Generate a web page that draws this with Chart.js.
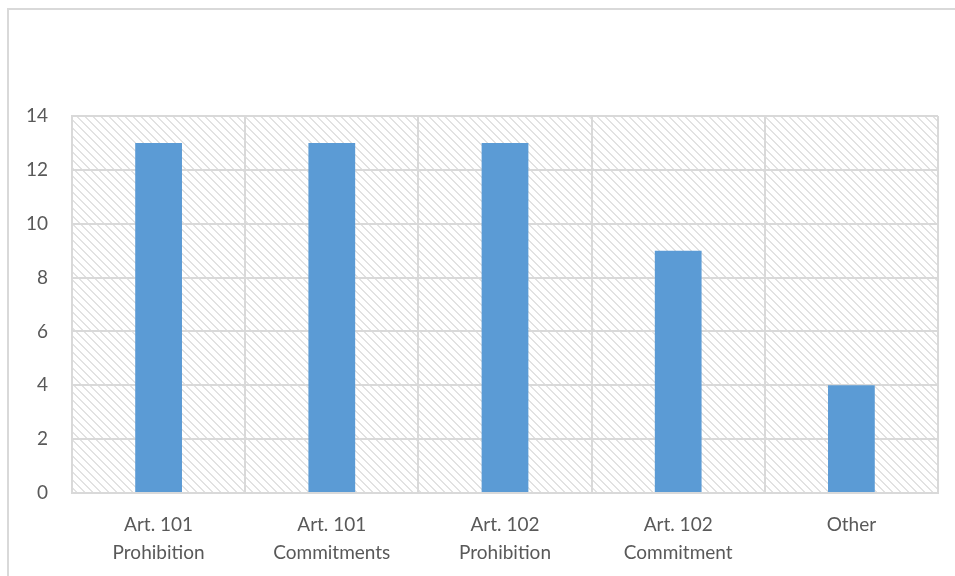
<!DOCTYPE html>
<html lang="en">
<head>
  <meta charset="UTF-8">
  <title>Cases by type</title>
  <script src="https://cdn.jsdelivr.net/npm/chart.js"></script>
  <style>
    html, body { margin: 0; padding: 0; background: #ffffff; }
    #wrap { width: 955px; height: 576px; position: relative; }
  </style>
</head>
<body>
<div id="wrap"><canvas id="casosChart"></canvas></div>

<script>
const categorias = [
  ['Art. 101', 'Prohibition'],
  ['Art. 101', 'Commitments'],
  ['Art. 102', 'Prohibition'],
  ['Art. 102', 'Commitment'],
  'Other'
];
const casos = [13, 13, 13, 9, 4];
const yTicks = [0, 2, 4, 6, 8, 10, 12, 14];

const cinza = '#d9d9d9';
const texto = '#595959';

// hachura diagonal do fundo da area do grafico
function criarHachura(ctx) {
  const c = document.createElement('canvas');
  c.width = 8; c.height = 8;
  const p = c.getContext('2d');
  p.fillStyle = '#ffffff';
  p.fillRect(0, 0, 8, 8);
  p.fillStyle = '#e2e2e2';
  for (let i = 0; i < 8; i++) {
    p.fillRect(i, i, 1, 1);
    p.fillRect((i + 1) % 8, i, 1, 1);
  }
  return ctx.createPattern(c, 'repeat');
}

const fundo = {
  id: 'fundo',
  beforeDraw(chart) {
    const { ctx, chartArea } = chart;
    ctx.save();
    ctx.fillStyle = criarHachura(ctx);
    ctx.fillRect(chartArea.left, chartArea.top, chartArea.width, chartArea.height);
    // moldura externa
    ctx.strokeStyle = cinza;
    ctx.lineWidth = 2;
    ctx.beginPath();
    ctx.moveTo(8, 576);
    ctx.lineTo(8, 9);
    ctx.lineTo(955, 9);
    ctx.stroke();
    ctx.restore();
  }
};

const ctx = document.getElementById('casosChart').getContext('2d');
new Chart(ctx, {
  type: 'bar',
  data: {
    labels: categorias,
    datasets: [{
      label: 'Cases',
      data: casos,
      backgroundColor: '#5b9bd5',
      borderWidth: 0,
      barPercentage: 0.27,
      categoryPercentage: 1
    }]
  },
  options: {
    responsive: true,
    maintainAspectRatio: false,
    animation: false,
    layout: { padding: { top: 116, right: 17, left: 0, bottom: 0 } },
    scales: {
      x: {
        grid: { color: cinza, lineWidth: 2, drawTicks: false, offset: true },
        border: { color: cinza, width: 2 },
        ticks: {
          color: texto,
          font: { family: 'Lato', size: 19, lineHeight: 1.48 },
          padding: 18,
          maxRotation: 0
        },
        afterFit(scale) { scale.height = 83; }
      },
      y: {
        min: 0,
        max: 14,
        afterBuildTicks(scale) { scale.ticks = yTicks.map(v => ({ value: v })); },
        grid: { color: cinza, lineWidth: 2, drawTicks: false },
        border: { color: cinza, width: 2 },
        ticks: {
          color: texto,
          font: { family: 'Lato', size: 19 },
          padding: 24
        },
        afterFit(scale) { scale.width = 72; }
      }
    },
    plugins: {
      legend: { display: false },
      tooltip: { enabled: false }
    }
  },
  plugins: [fundo]
});
</script>
</body>
</html>
